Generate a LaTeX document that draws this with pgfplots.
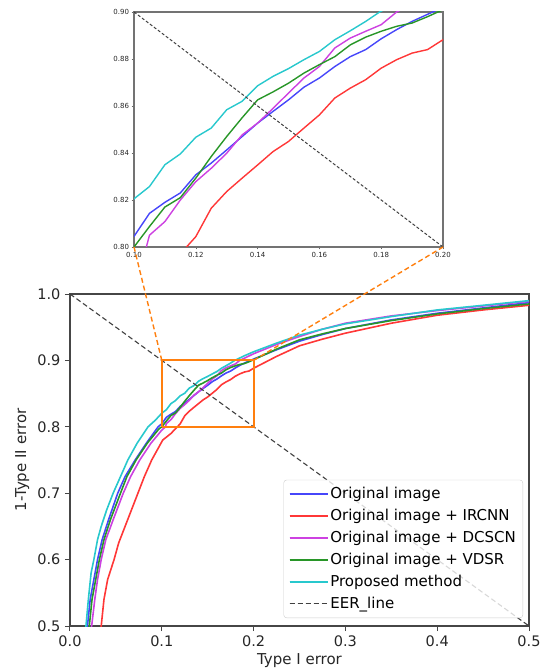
\documentclass[border=0pt]{standalone}
\usepackage{fontspec}
\setmainfont{DejaVu Sans}
\usepackage{pgfplots}
\pgfplotsset{compat=1.18}
\usepackage{pgfplotstable}

\definecolor{cBlue}{RGB}{70,70,250}
\definecolor{cRed}{RGB}{255,55,55}
\definecolor{cMag}{RGB}{205,65,225}
\definecolor{cGreen}{RGB}{40,150,40}
\definecolor{cCyan}{RGB}{40,200,205}
\definecolor{cOrange}{RGB}{255,127,14}
\definecolor{cSpine}{RGB}{70,70,70}

\pgfplotstableread{
x y
0.015 0.48
0.0174 0.50
0.020 0.54
0.023 0.58
0.026 0.60
0.030 0.63
0.034 0.65
0.040 0.675
0.047 0.70
0.055 0.725
0.063 0.75
0.073 0.775
0.085 0.80
0.093 0.81
0.100 0.8205
0.105 0.8257
0.110 0.835
0.115 0.8396
0.120 0.8467
0.125 0.8506
0.130 0.8584
0.135 0.862
0.140 0.8686
0.145 0.8726
0.150 0.8759
0.155 0.8797
0.160 0.8832
0.165 0.8882
0.170 0.892
0.175 0.896
0.1795 0.900
0.190 0.907
0.200 0.913
0.225 0.926
0.250 0.938
0.275 0.947
0.300 0.955
0.350 0.966
0.400 0.976
0.450 0.983
0.500 0.990
}\cyandata

\pgfplotstableread{
x y
0.016 0.48
0.019 0.50
0.022 0.54
0.026 0.57
0.030 0.60
0.035 0.63
0.042 0.66
0.052 0.70
0.060 0.725
0.071 0.75
0.083 0.775
0.096 0.80
0.100 0.8045
0.105 0.8143
0.110 0.819
0.115 0.823
0.120 0.8307
0.125 0.8357
0.130 0.8413
0.135 0.847
0.140 0.8527
0.145 0.8577
0.150 0.8626
0.155 0.868
0.160 0.8719
0.165 0.8768
0.170 0.881
0.175 0.884
0.180 0.8886
0.185 0.8925
0.190 0.896
0.195 0.899
0.200 0.902
0.225 0.916
0.250 0.929
0.275 0.939
0.300 0.948
0.350 0.961
0.400 0.971
0.450 0.979
0.500 0.987
}\bluedata

\pgfplotstableread{
x y
0.018 0.48
0.021 0.50
0.024 0.54
0.028 0.57
0.032 0.60
0.037 0.63
0.044 0.66
0.055 0.70
0.062 0.725
0.072 0.75
0.084 0.775
0.097 0.797
0.100 0.800
0.105 0.8087
0.110 0.817
0.115 0.821
0.120 0.8293
0.125 0.8385
0.130 0.847
0.135 0.855
0.140 0.8626
0.145 0.866
0.150 0.8697
0.155 0.874
0.160 0.8776
0.165 0.881
0.170 0.886
0.175 0.8893
0.180 0.8918
0.185 0.8939
0.190 0.8953
0.195 0.898
0.200 0.901
0.225 0.917
0.250 0.931
0.275 0.940
0.300 0.948
0.350 0.960
0.400 0.970
0.450 0.978
0.500 0.985
}\greendata

\pgfplotstableread{
x y
0.021 0.48
0.0236 0.50
0.027 0.54
0.030 0.57
0.034 0.60
0.039 0.63
0.047 0.66
0.058 0.70
0.066 0.725
0.076 0.75
0.088 0.775
0.100 0.795
0.104 0.800
0.105 0.805
0.110 0.8108
0.115 0.820
0.120 0.8278
0.125 0.8335
0.130 0.8399
0.135 0.8477
0.140 0.8527
0.145 0.859
0.150 0.8655
0.155 0.8719
0.160 0.8768
0.165 0.8847
0.170 0.8889
0.175 0.8918
0.180 0.8946
0.185 0.900
0.200 0.910
0.225 0.924
0.250 0.936
0.275 0.947
0.300 0.956
0.350 0.967
0.400 0.975
0.450 0.982
0.500 0.989
}\magdata

\pgfplotstableread{
x y
0.032 0.48
0.034 0.50
0.037 0.54
0.041 0.57
0.048 0.60
0.053 0.625
0.060 0.65
0.067 0.675
0.074 0.70
0.081 0.725
0.089 0.75
0.095 0.765
0.101 0.78
0.110 0.79
0.117 0.800
0.120 0.8044
0.125 0.8165
0.130 0.8236
0.135 0.8293
0.140 0.8349
0.145 0.8406
0.150 0.8449
0.155 0.8506
0.160 0.8562
0.165 0.8634
0.170 0.8676
0.175 0.8712
0.180 0.8761
0.185 0.8797
0.190 0.8825
0.195 0.884
0.200 0.8882
0.225 0.906
0.250 0.922
0.275 0.932
0.300 0.941
0.350 0.956
0.400 0.968
0.450 0.976
0.500 0.983
}\reddata

\pgfplotstableread{
x y
0.0 1.0
0.5 0.5
}\eerdata

\begin{document}
\begin{tikzpicture}
\useasboundingbox (0pt,0pt) rectangle (544pt,671pt);
% ---------------- main axis ----------------
\begin{axis}[
  name=main,
  at={(70pt,45pt)}, anchor=south west,
  scale only axis, width=459pt, height=332pt,
  xmin=0, xmax=0.5, ymin=0.5, ymax=1,
  clip=true,
  xtick={0,0.1,0.2,0.3,0.4,0.5},
  xticklabels={0.0,0.1,0.2,0.3,0.4,0.5},
  ytick={0.5,0.6,0.7,0.8,0.9,1.0},
  yticklabels={0.5,0.6,0.7,0.8,0.9,1.0},
  xtick pos=bottom, ytick pos=left,
  tick align=outside,
  major tick length=5pt,
  every tick/.style={cSpine, line width=1pt},
  axis line style={cSpine, line width=1.2pt},
  tick label style={font=\fontsize{14.5}{17}\selectfont, text=black!85},
  xticklabel style={yshift=-1pt},
  yticklabel style={xshift=-1pt},
  xlabel={Type I error},
  ylabel={1-Type II error},
  label style={font=\fontsize{15}{18}\selectfont, text=black!85},
  xlabel style={at={(rel axis cs:0.5,-0.105)}, anchor=center},
  ylabel style={at={(rel axis cs:-0.104,0.5)}, anchor=center},
  legend cell align=left,
  legend image code/.code={\draw[mark repeat=2,mark phase=2,#1] plot coordinates {(0pt,0pt) (15.5pt,0pt) (31pt,0pt)};\path (0pt,0pt) -- (38pt,0pt);},
  legend style={
    at={(rel axis cs:0.987,0.024)}, anchor=south east,
    font=\fontsize{15}{18}\selectfont,
    draw=black!20, rounded corners=3pt,
    fill=white, fill opacity=0.8, text opacity=1, draw opacity=1,
    inner xsep=5pt, inner ysep=5.5pt,
    row sep=5.1pt,
  },
]
\addplot[color=cBlue, line width=1.6pt] table {\bluedata};
\addlegendentry{Original image}
\addplot[color=cRed, line width=1.6pt] table {\reddata};
\addlegendentry{Original image + IRCNN}
\addplot[color=cMag, line width=1.6pt] table {\magdata};
\addlegendentry{Original image + DCSCN}
\addplot[color=cGreen, line width=1.6pt] table {\greendata};
\addlegendentry{Original image + VDSR}
\addplot[color=cCyan, line width=1.6pt] table {\cyandata};
\addlegendentry{Proposed method}
\addplot[color=black!75, line width=1.1pt, dash pattern=on 5pt off 3pt] table {\eerdata};
\addlegendentry{EER\_line}
\addplot[color=cOrange, line width=2.1pt, forget plot] coordinates {(0.1,0.8) (0.2,0.8) (0.2,0.9) (0.1,0.9) (0.1,0.8)};
\coordinate (mA) at (axis cs:0.1,0.9);
\coordinate (mB) at (axis cs:0.2,0.9);
\end{axis}
% ---------------- inset axis ----------------
\begin{axis}[
  name=inset,
  at={(134pt,424pt)}, anchor=south west,
  scale only axis, width=309pt, height=235pt,
  xmin=0.1, xmax=0.2, ymin=0.8, ymax=0.9,
  clip=true,
  xtick={0.10,0.12,0.14,0.16,0.18,0.20},
  xticklabels={0.10,0.12,0.14,0.16,0.18,0.20},
  ytick={0.80,0.82,0.84,0.86,0.88,0.90},
  yticklabels={0.80,0.82,0.84,0.86,0.88,0.90},
  xtick pos=bottom, ytick pos=left,
  tick align=outside,
  major tick length=2.5pt,
  every tick/.style={black!60, line width=0.6pt},
  axis line style={black!55, line width=1.1pt},
  tick label style={font=\fontsize{7}{8.4}\selectfont, text=black!85},
  xticklabel style={yshift=1pt},
  yticklabel style={xshift=1pt},
]
\addplot[color=cBlue, line width=1.4pt] table {\bluedata};
\addplot[color=cRed, line width=1.4pt] table {\reddata};
\addplot[color=cMag, line width=1.4pt] table {\magdata};
\addplot[color=cGreen, line width=1.4pt] table {\greendata};
\addplot[color=cCyan, line width=1.4pt] table {\cyandata};
\addplot[color=black!75, line width=1pt, dash pattern=on 3pt off 2pt] coordinates {(0.1,0.9) (0.2,0.8)};
\coordinate (iA) at (axis cs:0.1,0.8);
\coordinate (iB) at (axis cs:0.2,0.8);
\end{axis}
\draw[cOrange, line width=1.4pt, dash pattern=on 5pt off 3pt] (mA) -- (iA);
\draw[cOrange, line width=1.4pt, dash pattern=on 5pt off 3pt] (mB) -- (iB);
\end{tikzpicture}
\end{document}
